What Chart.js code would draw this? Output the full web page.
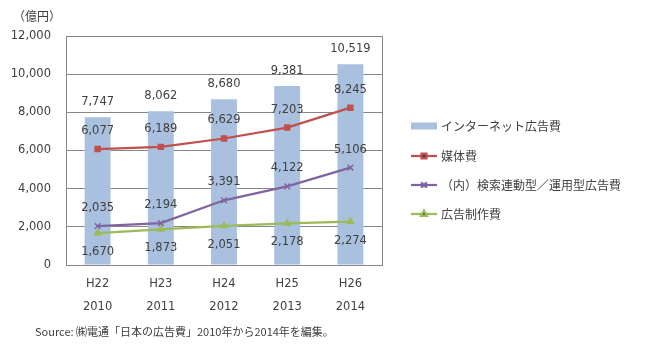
<!DOCTYPE html>
<html>
<head>
<meta charset="utf-8">
<script src="https://cdn.jsdelivr.net/npm/chart.js@4/dist/chart.umd.min.js"></script>
<style>
  html, body { margin: 0; padding: 0; background: #fff; }
  #wrap { width: 649px; height: 346px; position: relative; }
</style>
</head>
<body>
<div id="wrap"><canvas id="c" width="649" height="346"></canvas></div>
<script>
const heisei = ['H22', 'H23', 'H24', 'H25', 'H26'];
const years = ['2010', '2011', '2012', '2013', '2014'];
const internetAd = [7747, 8062, 8680, 9381, 10519];
const mediaCost = [6077, 6189, 6629, 7203, 8245];
const searchAd = [2035, 2194, 3391, 4122, 5106];
const productionCost = [1670, 1873, 2051, 2178, 2274];
const yTicks = [0, 2000, 4000, 6000, 8000, 10000, 12000];

const NUM_FONT = '"DejaVu Sans", Verdana, sans-serif';
const JP_FONT = '"Noto Sans CJK JP", "Noto Sans", sans-serif';
const TEXT = '#404040';
const GRID = '#868686';

// offset of each dataset's value label from its mark (px, negative = above)
const labelOffset = [-15, -18, -18, 19];

const fmt = v => v.toLocaleString('en-US');

const labelsPlugin = {
  id: 'valueLabels',
  afterDatasetsDraw(chart) {
    const ctx = chart.ctx;
    ctx.save();
    ctx.font = '11.5px ' + NUM_FONT;
    ctx.fillStyle = TEXT;
    ctx.textAlign = 'center';
    ctx.textBaseline = 'middle';
    chart.data.datasets.forEach((ds, di) => {
      const meta = chart.getDatasetMeta(di);
      meta.data.forEach((el, i) => {
        ctx.fillText(fmt(ds.data[i]), el.x, el.y + labelOffset[di]);
      });
    });
    ctx.restore();
  }
};

const extrasPlugin = {
  id: 'extras',
  beforeDatasetsDraw(chart) {
    // right edge of the plot box
    const { ctx, chartArea: a } = chart;
    ctx.save();
    ctx.strokeStyle = GRID;
    ctx.lineWidth = 1;
    ctx.beginPath();
    ctx.moveTo(Math.round(a.right) + 0.5, a.top);
    ctx.lineTo(Math.round(a.right) + 0.5, a.bottom);
    ctx.stroke();
    ctx.restore();
  },
  afterDraw(chart) {
    const ctx = chart.ctx;
    ctx.save();
    ctx.fillStyle = TEXT;
    ctx.textBaseline = 'middle';
    ctx.textAlign = 'left';

    // unit
    ctx.font = '12px ' + JP_FONT;
    ctx.fillText('（億円）', 13, 16);

    // source line
    ctx.font = '11px ' + JP_FONT;
    ctx.fillText('Source: ㈱電通「日本の広告費」2010年から2014年を編集。', 35, 332);

    // legend
    const x0 = 411, x1 = 437, tx = 441;
    const rows = [126, 156, 185, 214];
    chart.data.datasets.forEach((ds, i) => {
      const y = rows[i];
      if (ds.type === 'bar') {
        ctx.fillStyle = ds.backgroundColor;
        ctx.fillRect(x0, y - 3.5, x1 - x0, 7);
      } else {
        ctx.strokeStyle = ds.borderColor;
        ctx.lineWidth = 2.25;
        ctx.beginPath();
        ctx.moveTo(x0, y);
        ctx.lineTo(x1, y);
        ctx.stroke();
        Chart.helpers.drawPoint(ctx, {
          pointStyle: ds.pointStyle,
          radius: ds.pointRadius,
          borderWidth: 1.5
        }, (x0 + x1) / 2, y);
      }
      ctx.fillStyle = TEXT;
      ctx.font = '12px ' + JP_FONT;
      ctx.fillText(ds.label, tx, y);
    });
    ctx.restore();
  }
};

function lineSet(label, data, color, style, radius) {
  return {
    type: 'line',
    label,
    data,
    order: 0,
    borderColor: color,
    backgroundColor: color,
    borderWidth: 2.25,
    pointStyle: style,
    pointRadius: radius,
    pointHoverRadius: radius,
    pointBorderColor: color,
    pointBackgroundColor: color,
    pointBorderWidth: 1.5,
    tension: 0
  };
}

new Chart(document.getElementById('c'), {
  type: 'bar',
  data: {
    labels: heisei.map((h, i) => [h, years[i]]),
    datasets: [
      {
        type: 'bar',
        label: 'インターネット広告費',
        data: internetAd,
        order: 1,
        backgroundColor: '#a9c0de',
        barPercentage: 0.41,
        categoryPercentage: 1
      },
      lineSet('媒体費', mediaCost, '#c0504d', 'rect', 3.5),
      lineSet('（内）検索連動型／運用型広告費', searchAd, '#8064a2', 'crossRot', 4),
      lineSet('広告制作費', productionCost, '#9bbb59', 'triangle', 3.5)
    ]
  },
  options: {
    responsive: false,
    animation: false,
    events: [],
    layout: { padding: { left: 0, right: 267, top: 36, bottom: 0 } },
    plugins: {
      legend: { display: false },
      tooltip: { enabled: false }
    },
    scales: {
      x: {
        offset: true,
        grid: { display: false, drawTicks: false },
        border: { display: true, color: GRID, width: 1 },
        ticks: {
          color: TEXT,
          padding: 8,
          font: { family: NUM_FONT, size: 11.5, lineHeight: 1.95 },
          maxRotation: 0
        },
        afterFit(scale) { scale.height = 81; }
      },
      y: {
        min: 0,
        max: 12000,
        afterBuildTicks(scale) { scale.ticks = yTicks.map(v => ({ value: v })); },
        grid: { color: GRID, drawTicks: false },
        border: { display: true, color: GRID, width: 1 },
        ticks: {
          color: TEXT,
          padding: 15,
          font: { family: NUM_FONT, size: 11.5 },
          callback: v => fmt(v)
        },
        afterFit(scale) { scale.width = 66; }
      }
    }
  },
  plugins: [labelsPlugin, extrasPlugin]
});
</script>
</body>
</html>
